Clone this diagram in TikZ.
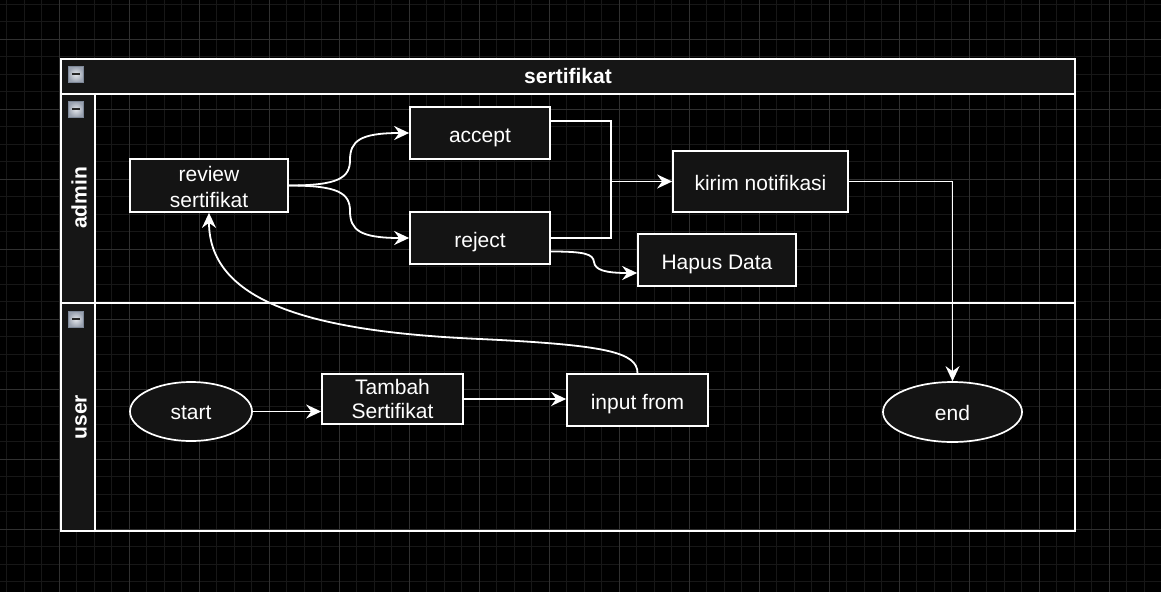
\documentclass[tikz,border=0pt]{standalone}
\usepackage{fontspec}
\setmainfont{Liberation Sans}
\usetikzlibrary{arrows.meta,shapes.geometric}
\definecolor{bgc}{HTML}{000000}
\definecolor{gridminor}{HTML}{171717}
\definecolor{gridmajor}{HTML}{303030}
\definecolor{hdrfill}{HTML}{161616}
\definecolor{nodefill}{HTML}{141414}
\definecolor{iconlight}{HTML}{E4E7EC}
\definecolor{icondark}{HTML}{9AA2B0}
\definecolor{iconedge}{HTML}{7E8898}
\newcommand{\collapseicon}[2]{%
  \shade[inner color=iconlight, outer color=icondark] (#1,#2) rectangle +(15.5,15.5);
  \draw[iconedge, line width=0.8pt] (#1,#2) rectangle +(15.5,15.5);
  \draw[black!85, line width=2pt] (#1+4,#2+7.75) -- +(7.5,0);
}
\newcommand{\twolines}[3]{\parbox[b]{120pt}{\centering\fontsize{21}{#3}\selectfont #1\\#2}}
\begin{document}
\begin{tikzpicture}[x=1pt,y=-1pt,
  box/.style={draw=white, line width=1.7pt, fill=nodefill, text=white,
    font=\fontsize{21}{25}\selectfont, inner sep=0pt},
  one/.style={text height=19pt, text depth=1pt},
  oval/.style={box, ellipse, text height=18pt, text depth=2pt},
  wire/.style={draw=white, line width=1.8pt},
  conn/.style={wire, -{Stealth[length=15pt, width=14pt, inset=5pt]}},
  frame/.style={draw=white, line width=1.8pt},
  lanelabel/.style={text=white, font=\bfseries\fontsize{21}{25}\selectfont, rotate=90,
    text height=18.5pt, text depth=1.5pt},
]
\useasboundingbox (0,0) rectangle (1161,592);
\fill[bgc] (0,0) rectangle (1161,592);
% grid
\foreach \i in {0,...,65} \draw[gridminor, line width=1pt] ({6.8+17.5*\i},0) -- ({6.8+17.5*\i},592);
\foreach \i in {0,...,33} \draw[gridminor, line width=1pt] (0,{4.3+17.5*\i}) -- (1161,{4.3+17.5*\i});
\foreach \i in {0,...,15} \draw[gridmajor, line width=1pt] ({59.3+70*\i},0) -- ({59.3+70*\i},592);
\foreach \i in {0,...,7} \draw[gridmajor, line width=1pt] (0,{39.3+70*\i}) -- (1161,{39.3+70*\i});

% pool
\draw[frame, fill=hdrfill] (61,59) rectangle (1075,94);
\node[text=white, font=\bfseries\fontsize{21}{25}\selectfont, text height=16.8pt, text depth=3.2pt] (pooltitle) at (568,76.5) {sertifikat};
\draw[frame, fill=hdrfill] (61,94) rectangle (95,303);
\draw[frame, fill=hdrfill] (61,303) rectangle (95,531);
\draw[frame] (61,59) rectangle (1075,531);
\draw[frame] (61,303) -- (1075,303);
\node[lanelabel] (adminlbl) at (78,198) {admin};
\node[lanelabel] (userlbl) at (78,417) {user};
\collapseicon{68}{66.5}
\collapseicon{68}{101.5}
\collapseicon{68}{311.5}

% nodes
\node[box, minimum width=158, minimum height=53, text height=44.6pt, text depth=0pt] (review) at (209,185.5) {\twolines{review}{sertifikat}{26}};
\node[box, one, minimum width=140, minimum height=52] (accept) at (480,133) {accept};
\node[box, one, minimum width=140, minimum height=52] (reject) at (480,238) {reject};
\node[box, one, minimum width=175, minimum height=61] (kirim) at (760.5,181.5) {kirim notifikasi};
\node[box, one, minimum width=158, minimum height=52] (hapus) at (717,260) {Hapus Data};
\node[oval, minimum width=122, minimum height=59] (start) at (191,411.5) {start};
\node[box, minimum width=141, minimum height=50, text height=39.2pt, text depth=0pt] (tambah) at (392.5,399) {\twolines{Tambah}{Sertifikat}{24.3}};
\node[box, one, minimum width=141, minimum height=52] (input) at (637.5,400) {input from};
\node[oval, minimum width=139, minimum height=60] (end) at (952.5,412) {end};

% connectors
\draw[conn] (review.east) .. controls (338,185.5) and (350,178) .. (350,160)
  .. controls (350,141) and (360,133) .. (accept.west);
\draw[conn] (review.east) .. controls (338,185.5) and (350,193) .. (350,211)
  .. controls (350,230) and (360,238) .. (reject.west);
\coordinate (merge) at (611,181.5);
\draw[wire] ([yshift=12pt]accept.east) -| (merge);
\draw[wire] (reject.east) -| (merge);
\draw[conn] (merge) -- (kirim.west);
\draw[conn] ([yshift=-13.5pt]reject.east) .. controls (585,251.5) and (593,254) .. (594,262)
  .. controls (595,270) and (605,273) .. ([yshift=-13pt]hapus.west);
\draw[conn] (kirim.east) -| (end.north);
\draw[conn] (start.east) -- (start.east -| tambah.west);
\draw[conn] (tambah.east) -- (tambah.east -| input.west);
\draw[conn] (input.north) .. controls (637.5,352) and (605,345) .. (480,339)
  .. controls (320,332) and (209,305) .. (review.south);
\end{tikzpicture}
\end{document}
